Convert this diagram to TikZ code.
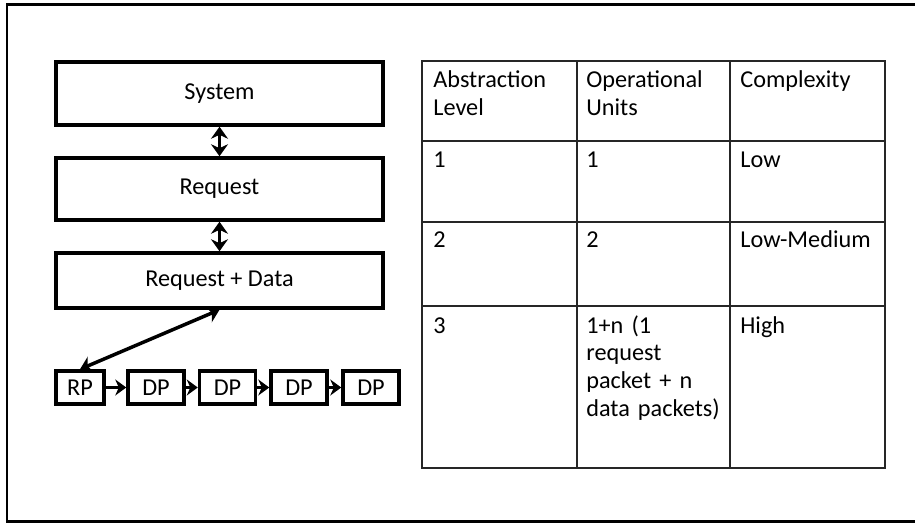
\documentclass[tikz,border=0pt]{standalone}
\usepackage{fontspec}
\setmainfont{Carlito}
\usetikzlibrary{arrows.meta,positioning}
\begin{document}
\begin{tikzpicture}[x=0.02cm,y=-0.02cm,font=\fontsize{13.8}{15.9}\selectfont,
  layer/.style={draw,line width=0.07cm,minimum width=6.54cm,inner sep=0pt},
  pkt/.style={draw,line width=0.07cm,minimum height=0.66cm,inner sep=0pt},
  link/.style={line width=0.07cm,{Stealth[length=0.24cm,width=0.34cm]}-{Stealth[length=0.24cm,width=0.34cm]}},
  next/.style={line width=0.07cm,-{Stealth[length=0.22cm,width=0.32cm]}},
  cell/.style={anchor=base west,inner sep=0pt,text width=2.8cm,align=left}]
\useasboundingbox (0,0) rectangle (915,523);
\draw[line width=0.06cm] (925,5) -- (7,5) -- (7,521) -- (925,521);
% abstraction stack
\node[layer,minimum height=1.26cm] (sys) at (219.5,93.5) {System};
\node[layer,minimum height=1.24cm] (req) at (219.5,189) {Request};
\node[layer,minimum height=1.1cm] (rqd) at (219.5,280.5) {Request + Data};
\draw[link] (sys) -- (req);
\draw[link] (req) -- (rqd);
% packets
\node[pkt,minimum width=0.96cm] (rp) at (80,387.5) {RP};
\foreach \n/\x in {1/156,2/227.5,3/299,4/371} \node[pkt,minimum width=1.12cm] (dp\n) at (\x,387.5) {DP};
\draw[link] (rqd.south) -- (rp.north);
\draw[next] (rp) -- (dp1);
\foreach \a/\b in {1/2,2/3,3/4} \draw[next] (dp\a) -- (dp\b);
% table
\draw[gray!30!black,line width=0.7pt] (422,61) rectangle (885,468);
\foreach \x in {577,730} \draw[gray!30!black,line width=0.7pt] (\x,61) -- (\x,468);
\foreach \y in {141,222,306} \draw[gray!30!black,line width=0.7pt] (422,\y) -- (885,\y);
\node[cell] (h1) at (433,88) {Abstraction\\Level};
\node[cell] (h2) at (586,88) {Operational\\Units};
\node[cell] (h3) at (740,88) {Complexity};
\node[cell] (a1) at (433,168) {1};
\node[cell] (b1) at (586,168) {1};
\node[cell] (c1) at (740,168) {Low};
\node[cell] (a2) at (433,248) {2};
\node[cell] (b2) at (586,248) {2};
\node[cell] (c2) at (740,248) {Low-Medium};
\node[cell] (a3) at (433,333) {3};
\node[cell] (b3) at (586,333) {1+n (1\\request\\packet + n\\data packets)};
\node[cell] (c3) at (740,333) {High};
\end{tikzpicture}
\end{document}
